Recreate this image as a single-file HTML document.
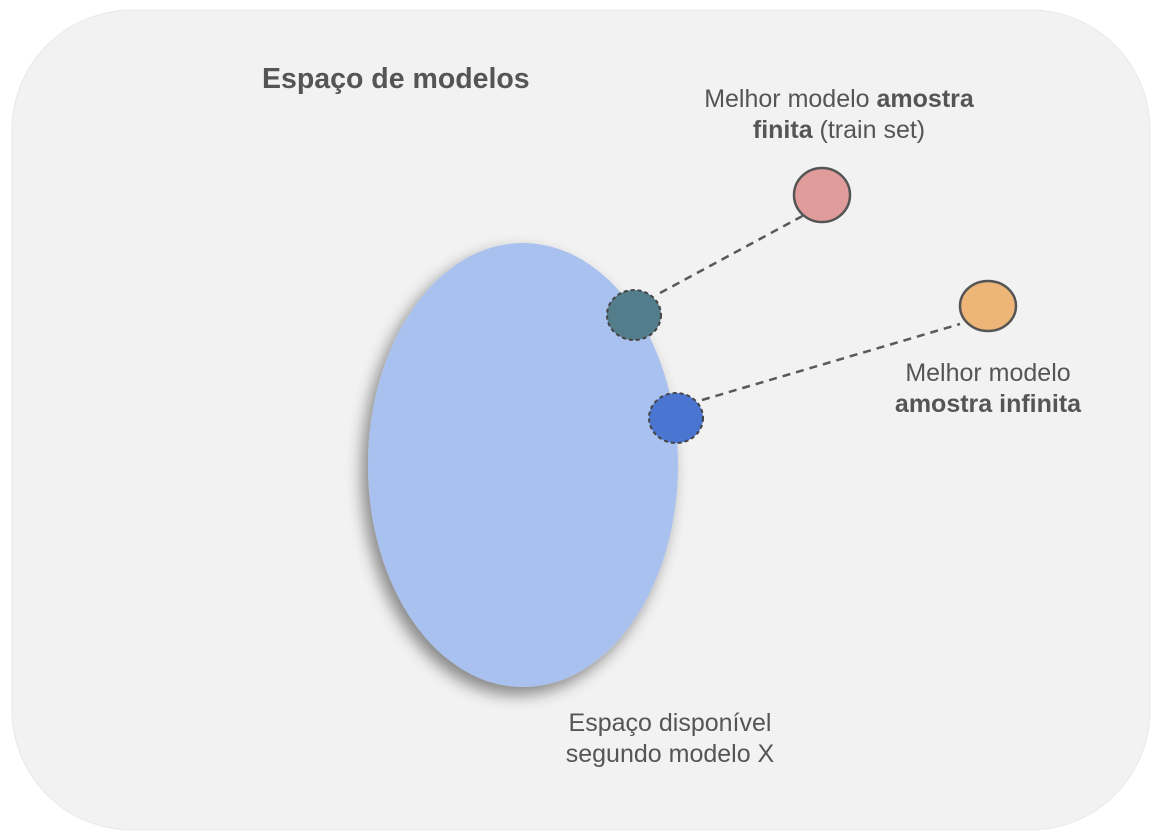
<!DOCTYPE html>
<html><head><meta charset="utf-8"><style>
html,body{margin:0;padding:0;background:#fff;}
svg{display:block;}
text{font-family:"Liberation Sans",sans-serif;fill:#555;}
</style></head><body>
<svg width="1160" height="838" viewBox="0 0 1160 838" xmlns="http://www.w3.org/2000/svg">
<defs>
<filter id="sh" x="-30%" y="-30%" width="160%" height="160%">
<feGaussianBlur in="SourceAlpha" stdDeviation="8"/>
<feOffset dx="-6" dy="8"/>
<feComponentTransfer><feFuncA type="linear" slope="0.45"/></feComponentTransfer>
<feMerge><feMergeNode/><feMergeNode in="SourceGraphic"/></feMerge>
</filter>
</defs>
<rect x="12" y="10" width="1138" height="820" rx="120" ry="120" fill="#f2f2f2" stroke="#e8e8e8" stroke-width="1"/>
<text x="262" y="88" font-size="28.5" font-weight="bold">Espaço de modelos</text>
<ellipse cx="523" cy="465" rx="155" ry="222" fill="#a9c1ee" filter="url(#sh)"/>
<line x1="660" y1="293" x2="808" y2="213" stroke="#595959" stroke-width="2.5" stroke-dasharray="8,6"/>
<line x1="702" y1="400" x2="960" y2="324" stroke="#595959" stroke-width="2.5" stroke-dasharray="8,6"/>
<ellipse cx="634" cy="315" rx="27" ry="25" fill="#537d8a" stroke="#444" stroke-width="2" stroke-dasharray="4,3"/>
<ellipse cx="676" cy="418" rx="27" ry="25" fill="#4a76d2" stroke="#444" stroke-width="2" stroke-dasharray="4,3"/>
<ellipse cx="822" cy="195" rx="28" ry="27" fill="#e09c9a" stroke="#555" stroke-width="2.5"/>
<ellipse cx="988" cy="306" rx="28" ry="25" fill="#edb577" stroke="#555" stroke-width="2.5"/>
<text x="839" y="107" font-size="25" text-anchor="middle">Melhor modelo <tspan font-weight="bold">amostra</tspan></text>
<text x="839" y="138" font-size="25" text-anchor="middle"><tspan font-weight="bold">finita</tspan> (train set)</text>
<text x="988" y="381" font-size="25" text-anchor="middle">Melhor modelo</text>
<text x="988" y="412" font-size="25" text-anchor="middle" font-weight="bold">amostra infinita</text>
<text x="670" y="731" font-size="25" text-anchor="middle">Espaço disponível</text>
<text x="670" y="762" font-size="25" text-anchor="middle">segundo modelo X</text>
</svg>
</body></html>
